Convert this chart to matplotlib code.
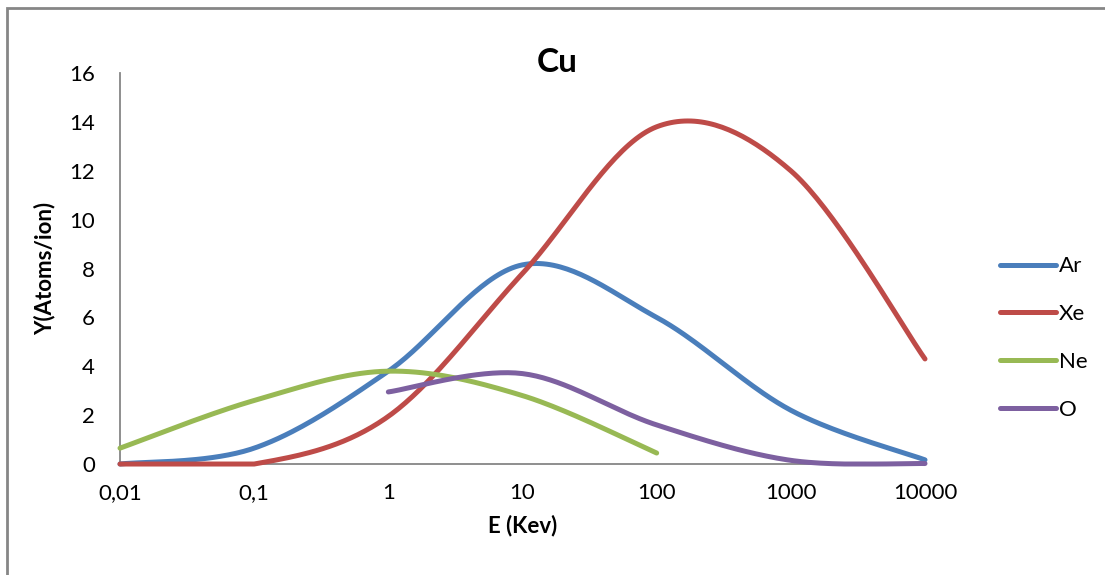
import matplotlib.pyplot as plt
import matplotlib.patches as patches
import numpy as np

plt.rcParams['font.family'] = ['Lato', 'DejaVu Sans']

# energy categories (equally spaced category axis)
energies = ["0,01", "0,1", "1", "10", "100", "1000", "10000"]

# sputtering yield per ion, None where there is no value
ar = [0.0, 0.65, 3.8, 8.15, 6.0, 2.2, 0.17]
xe = [0.0, 0.0, 1.95, 7.8, 13.8, 12.0, 4.3]
ne = [0.65, 2.6, 3.8, 2.8, 0.45, None, None]
o = [None, None, 2.95, 3.7, 1.6, 0.15, 0.02]

series = [("Ar", ar, "#4a7ebb"), ("Xe", xe, "#be4b48"),
          ("Ne", ne, "#98b954"), ("O", o, "#7d60a0")]


def smooth(xs, ys, n=40):
    # Catmull-Rom style bezier through the points, like a spreadsheet "smoothed line"
    p = np.column_stack([xs, ys]).astype(float)
    out = [p[0]]
    for i in range(len(p) - 1):
        p0 = p[i - 1] if i > 0 else p[i]
        p1, p2 = p[i], p[i + 1]
        p3 = p[i + 2] if i + 2 < len(p) else p[i + 1]
        c1 = p1 + (p2 - p0) / 6
        c2 = p2 - (p3 - p1) / 6
        t = np.linspace(0, 1, n)[1:, None]
        seg = ((1 - t) ** 3 * p1 + 3 * (1 - t) ** 2 * t * c1
               + 3 * (1 - t) * t ** 2 * c2 + t ** 3 * p2)
        out.extend(seg)
    out = np.array(out)
    # yields can't go negative, keep the curve on the axis
    return out[:, 0], np.maximum(out[:, 1], 0)


fig = plt.figure(figsize=(11.05, 5.75), dpi=100)
ax = fig.add_axes([0.1086, 0.193, 0.7285, 0.68])

for name, vals, color in series:
    xs = [i for i, v in enumerate(vals) if v is not None]
    ys = [v for v in vals if v is not None]
    sx, sy = smooth(xs, ys)
    ax.plot(sx, sy, color=color, lw=3.6, solid_capstyle='round', label=name,
            clip_on=False, zorder=3)

ax.set_xlim(0, len(energies) - 1)
ax.set_ylim(0, 16)
ax.set_xticks(range(len(energies)))
ax.set_xticklabels(energies)
ax.set_yticks(range(0, 17, 2))
ax.tick_params(length=0, labelsize=16)
ax.tick_params(axis='y', pad=18)
ax.tick_params(axis='x', pad=14)

for side in ("top", "right"):
    ax.spines[side].set_visible(False)
for side in ("left", "bottom"):
    ax.spines[side].set_color("#868686")
    ax.spines[side].set_linewidth(1.3)

ax.set_xlabel("E (Kev)", fontsize=16, fontweight='bold', labelpad=8)
ax.set_ylabel("Y(Atoms/ion)", fontsize=16, fontweight='bold', labelpad=10)
fig.text(0.504, 0.892, "Cu", fontsize=24, fontweight='bold', ha='center', va='center')

ax.legend(loc='center left', bbox_to_anchor=(0.897, 0.412), bbox_transform=fig.transFigure,
          frameon=False, fontsize=16, handlelength=2.5, handletextpad=0.15,
          labelspacing=1.25, borderaxespad=0)

# chart area border
fig.patches.append(patches.Rectangle((7 / 1105, -0.1), 1.2, 1.1 - 8 / 575,
                                     transform=fig.transFigure, fill=False,
                                     edgecolor="#868686", lw=2))

fig.savefig("out.png", dpi=100)
